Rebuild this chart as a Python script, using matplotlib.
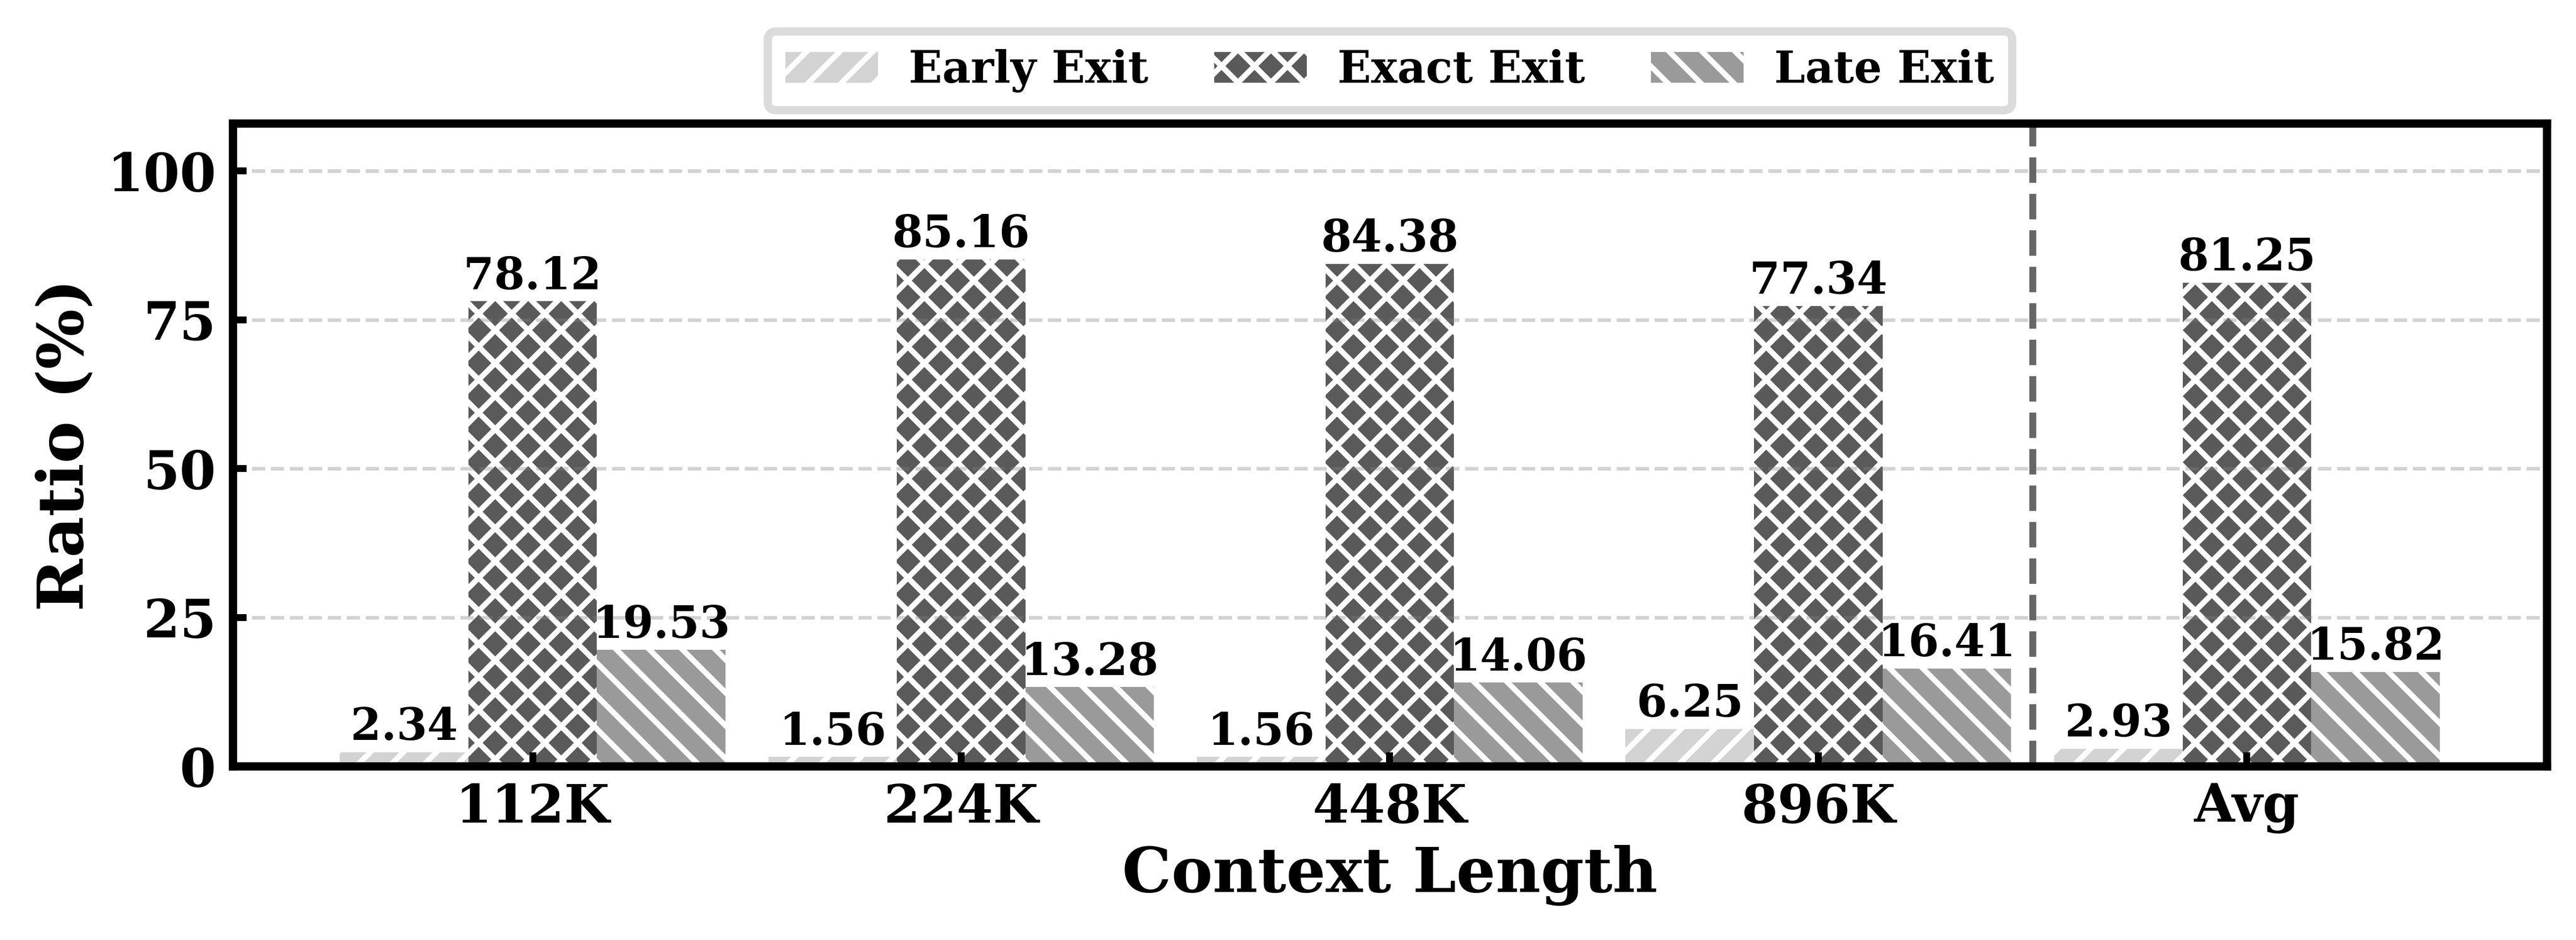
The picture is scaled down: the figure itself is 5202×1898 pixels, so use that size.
import numpy as np
import matplotlib
matplotlib.use("Agg")
import matplotlib.pyplot as plt

# data
contexts = ["112K", "224K", "448K", "896K", "Avg"]
early_exit = [2.34, 1.56, 1.56, 6.25, 2.93]
exact_exit = [78.12, 85.16, 84.38, 77.34, 81.25]
late_exit = [19.53, 13.28, 14.06, 16.41, 15.82]
yticks = [0, 25, 50, 75, 100]

plt.rcParams["font.family"] = "DejaVu Serif"
plt.rcParams["font.weight"] = "bold"
plt.rcParams["axes.labelweight"] = "bold"
plt.rcParams["hatch.linewidth"] = 2.0
plt.rcParams["hatch.color"] = "white"


def main():
    fig = plt.figure(figsize=(13.005, 4.745), dpi=400)
    ax = fig.add_axes([0.0903, 0.1849, 0.8984, 0.6839])

    x = np.arange(len(contexts))
    w = 0.3
    series = [
        ("Early Exit", early_exit, "#d3d3d3", "//"),
        ("Exact Exit", exact_exit, "#5a5a5a", "xx"),
        ("Late Exit", late_exit, "#9a9a9a", "\\\\"),
    ]
    for i, (name, vals, color, hatch) in enumerate(series):
        bars = ax.bar(x + (i - 1) * w, vals, w, color=color, hatch=hatch,
                      edgecolor="white", linewidth=0, label=name)
        ax.bar_label(bars, fmt="%.2f", padding=1, fontsize=16, fontweight="bold")

    ax.axvline(3.5, color="#666666", linestyle="--", linewidth=2.5)

    ax.set_xlim(-0.7, 4.7)
    ax.set_ylim(0, 108)
    ax.set_xticks(x)
    ax.set_xticklabels(contexts)
    ax.set_yticks(yticks)
    ax.tick_params(axis="both", direction="in", length=5, width=2.5, labelsize=19)
    ax.tick_params(axis="y", pad=6)
    ax.tick_params(axis="x", pad=6)
    for sp in ax.spines.values():
        sp.set_linewidth(3)

    ax.grid(axis="y", color="gray", alpha=0.35, linestyle="--", linewidth=1.3)
    ax.set_xlabel("Context Length", fontsize=22.5, fontweight="bold", labelpad=4)
    ax.set_ylabel("Ratio (%)", fontsize=23, fontweight="bold")

    leg = ax.legend(loc="lower center", bbox_to_anchor=(0.5, 1.0), ncol=3,
                    fontsize=16, frameon=True, fancybox=True, columnspacing=1.5,
                    handlelength=2.1, handletextpad=0.7, borderaxespad=0.3)
    frame = leg.get_frame()
    frame.set_edgecolor("#d3d3d3")
    frame.set_linewidth(3)

    fig.savefig("out.png", dpi=400)


if __name__ == "__main__":
    main()
